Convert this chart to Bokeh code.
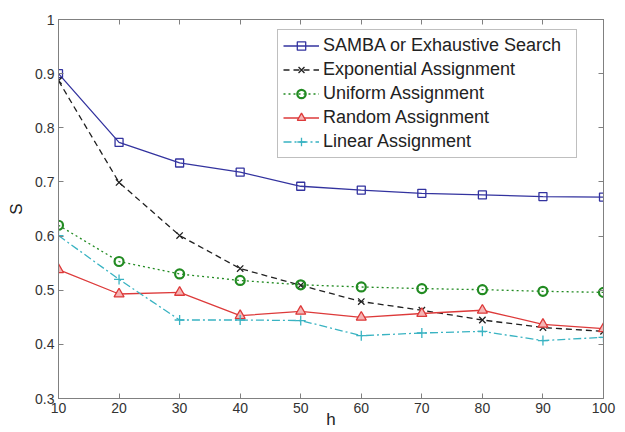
from bokeh.plotting import figure
from bokeh.models import LinearAxis, Range1d, Legend, LegendItem, FixedTicker
from bokeh.embed import file_html
from bokeh.resources import INLINE

h = [10, 20, 30, 40, 50, 60, 70, 80, 90, 100]
samba = [0.900, 0.773, 0.735, 0.718, 0.692, 0.685, 0.679, 0.676, 0.673, 0.672]
exponential = [0.887, 0.699, 0.601, 0.540, 0.509, 0.479, 0.463, 0.445, 0.431, 0.424]
uniform = [0.620, 0.553, 0.530, 0.518, 0.510, 0.506, 0.503, 0.501, 0.498, 0.496]
random_assign = [0.538, 0.493, 0.496, 0.453, 0.461, 0.450, 0.457, 0.463, 0.437, 0.429]
linear = [0.601, 0.520, 0.445, 0.445, 0.444, 0.416, 0.421, 0.424, 0.407, 0.413]

labels = ["SAMBA or Exhaustive Search", "Exponential Assignment", "Uniform Assignment",
          "Random Assignment", "Linear Assignment"]
x_ticks = [10, 20, 30, 40, 50, 60, 70, 80, 90, 100]
y_ticks = [0.3, 0.4, 0.5, 0.6, 0.7, 0.8, 0.9, 1.0]

FONT = "Liberation Sans"

p = figure(width=625, height=432, output_backend="svg", toolbar_location=None,
           x_range=Range1d(10, 100), y_range=Range1d(0.3, 1.0),
           min_border_left=58, min_border_right=22, min_border_top=19, min_border_bottom=34)
p.background_fill_color = "white"
p.border_fill_color = "white"
p.xgrid.visible = False
p.ygrid.visible = False
p.outline_line_color = "#808080"
p.outline_line_width = 1

for ax in [p.xaxis[0], p.yaxis[0]]:
    ax.major_tick_in = 5
    ax.major_tick_out = 0
    ax.minor_tick_line_color = None
    ax.axis_line_color = "#808080"
    ax.major_tick_line_color = "#808080"
    ax.major_label_text_font = FONT
    ax.major_label_text_font_size = "14px"
    ax.major_label_text_color = "#333333"
    ax.axis_label_text_font = FONT
    ax.axis_label_text_font_size = "17px"
    ax.axis_label_text_font_style = "normal"
    ax.axis_label_text_color = "#222222"

p.xaxis[0].ticker = FixedTicker(ticks=x_ticks)
p.yaxis[0].ticker = FixedTicker(ticks=y_ticks)
p.yaxis[0].major_label_overrides = {1.0: "1"}
p.xaxis[0].axis_label = "h"
p.yaxis[0].axis_label = "S"
p.xaxis[0].major_label_standoff = 4
p.yaxis[0].major_label_standoff = 4
p.xaxis[0].axis_label_standoff = -6
p.yaxis[0].axis_label_standoff = 6

top = LinearAxis(ticker=FixedTicker(ticks=x_ticks))
right = LinearAxis(ticker=FixedTicker(ticks=y_ticks))
for ax in [top, right]:
    ax.major_tick_in = 5
    ax.major_tick_out = 0
    ax.minor_tick_line_color = None
    ax.axis_line_color = "#808080"
    ax.major_tick_line_color = "#808080"
    ax.major_label_text_color = None
    ax.major_label_standoff = 0
p.add_layout(top, "above")
p.add_layout(right, "right")

series = [
    (samba, "#33339f", "solid", "square", 8, 1.3),
    (exponential, "#202020", "dashed", "x", 9, 1.3),
    (uniform, "#228b22", "dotted", "circle", 9, 1.3),
    (random_assign, "#dd3a3a", "solid", "triangle", 10, 1.3),
    (linear, "#39b3c2", "dashdot", "cross", 10, 1.3),
]
dash_map = {"solid": "solid", "dashed": "6 4", "dotted": "2 3", "dashdot": "8 3 2 3"}

items = []
for (ys, color, dash, marker, size, lw), lab in zip(series, labels):
    r1 = p.line(h, ys, line_color=color, line_width=lw, line_dash=dash_map[dash])
    mlw = 2.2 if marker == "circle" else 1.3
    fill = "#f5b5b5" if marker == "triangle" else None
    r2 = p.scatter(h, ys, marker=marker, size=size, line_color=color, line_width=mlw,
                   fill_color=fill)
    items.append(LegendItem(label=lab, renderers=[r1, r2]))

legend = Legend(items=items, location=(219, 240))
legend.label_text_font = FONT
legend.label_text_font_size = "18px"
legend.label_text_color = "#222222"
legend.glyph_width = 36
legend.glyph_height = 21
legend.label_height = 21
legend.label_width = 248
legend.spacing = 3
legend.padding = 5
legend.margin = 0
legend.label_standoff = 4
legend.border_line_color = "#808080"
legend.border_line_width = 1
legend.background_fill_color = "white"
legend.background_fill_alpha = 1
p.add_layout(legend, "center")

open("out.html", "w").write(file_html(p, INLINE))
